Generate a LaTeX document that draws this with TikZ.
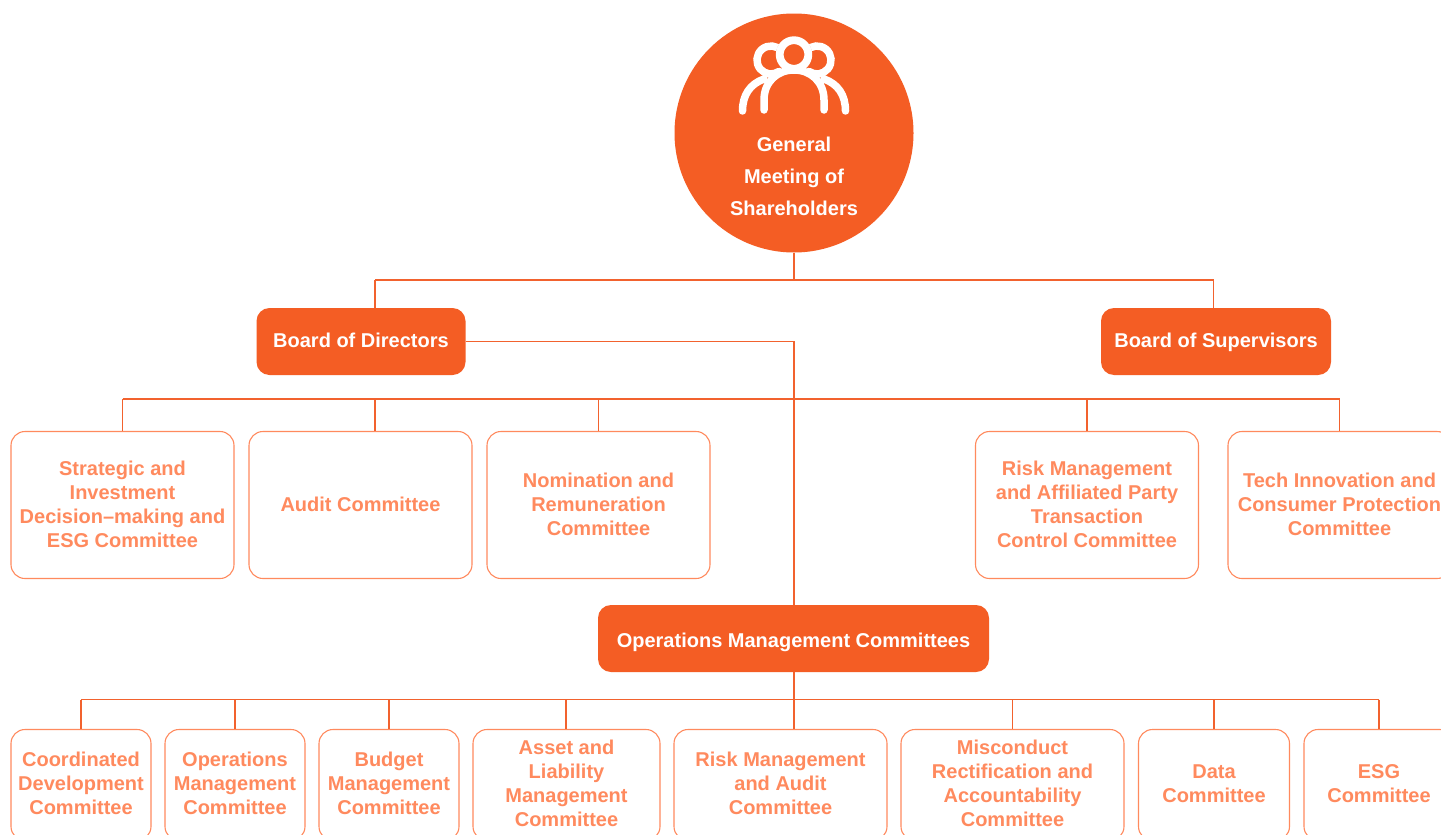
\documentclass[tikz,border=0pt]{standalone}
\usepackage{fontspec}
\setmainfont{Liberation Sans}
\definecolor{brand}{HTML}{F45D24}
\definecolor{soft}{HTML}{FF8A5E}
\definecolor{wire}{HTML}{F2622E}
\setlength{\tabcolsep}{0pt}
\newcommand{\blk}[2]{\raisebox{\dimexpr#1pt-8pt\relax}[0pt][0pt]{\begin{tabular}{@{}c@{}}#2\end{tabular}}}
\tikzset{
  x=1pt,y=-1pt,
  cbox/.style={draw=soft,line width=1.1pt,rounded corners=14pt,fill=white,text=soft,align=center,inner sep=0pt,
    font=\bfseries\fontsize{20}{24}\selectfont},
  solidbox/.style={fill=brand,rounded corners=13pt,text=white,align=center,inner sep=0pt,
    font=\bfseries\fontsize{20}{24}\selectfont},
  wireline/.style={draw=wire,line width=1.1pt},
  iconline/.style={draw=white,line width=7.5pt,line cap=round},
}
\begin{document}
\begin{tikzpicture}
\clip (0,0) rectangle (1441,835);
\fill[white] (0,0) rectangle (1441,835);

% trunk coordinates
\coordinate (t1) at (794,280);
\coordinate (t1l) at (375,280);
\coordinate (t1r) at (1213.5,280);
\coordinate (t2) at (794,399);
\coordinate (t2a) at (122.5,399);
\coordinate (t2b) at (375,399);
\coordinate (t2c) at (598.5,399);
\coordinate (t2d) at (1087,399);
\coordinate (t2e) at (1339.5,399);
\coordinate (t3) at (794,699.5);
\coordinate (t3a) at (81,699.5);
\coordinate (t3b) at (235,699.5);
\coordinate (t3c) at (389,699.5);
\coordinate (t3d) at (566,699.5);
\coordinate (t3f) at (1012.5,699.5);
\coordinate (t3g) at (1214,699.5);
\coordinate (t3h) at (1379,699.5);
\coordinate (bend) at (794,341.5);

% General meeting
\node[circle,fill=brand,minimum size=239pt,inner sep=0pt] (gm) at (794,133) {};
\node[text=white,align=center,inner sep=0pt,font=\bfseries\fontsize{20}{32}\selectfont] (gmt) at (794,176) {General\\Meeting of\\Shareholders};

% icon
\draw[iconline] (781.7,51) arc[start angle=-40,end angle=-305,radius=14];
\draw[iconline] (806.3,51) arc[start angle=-140,end angle=125,radius=14];
\draw[iconline] (742.5,111) .. controls (742.5,95) and (750,84) .. (764,79);
\draw[iconline] (845.5,111) .. controls (845.5,95) and (838,84) .. (824,79);
\fill[brand] (794,54.5) circle (18);
\draw[draw=white,line width=7.8pt] (794,54.5) circle (14.3);
\draw[iconline] (764,110) -- (764,100) .. controls (764,82) and (777,70) .. (794,70) .. controls (811,70) and (824,82) .. (824,100) -- (824,110);

% Boards
\node[solidbox,minimum width=209pt,minimum height=67pt] (bod) at (361,341.5) {\blk{1.5}{Board of Directors}};
\node[solidbox,minimum width=230pt,minimum height=67pt] (bos) at (1216,341.5) {\blk{1.5}{Board of Supervisors}};
\node[solidbox,minimum width=391pt,minimum height=67pt] (omc) at (793.5,638.5) {\blk{-1.5}{Operations Management Committees}};

% Committees
\node[cbox,minimum width=223pt,minimum height=147pt] (c1) at (122.5,505) {\blk{1}{Strategic and\\Investment\\Decision–making and\\ESG Committee}};
\node[cbox,minimum width=223pt,minimum height=147pt] (c2) at (360.5,505) {\blk{1}{Audit Committee}};
\node[cbox,minimum width=223pt,minimum height=147pt] (c3) at (598.5,505) {\blk{1}{Nomination and\\Remuneration\\Committee}};
\node[cbox,minimum width=223pt,minimum height=147pt] (c4) at (1087,505) {\blk{1}{Risk Management\\and Affiliated Party\\Transaction\\Control Committee}};
\node[cbox,minimum width=223pt,minimum height=147pt] (c5) at (1339.5,505) {\blk{1}{Tech Innovation and\\Consumer Protection\\Committee}};

% Operating committees
\node[cbox,minimum width=140pt,minimum height=111pt] (o1) at (81,785) {\blk{2}{Coordinated\\Development\\Committee}};
\node[cbox,minimum width=140pt,minimum height=111pt] (o2) at (235,785) {\blk{2}{Operations\\Management\\Committee}};
\node[cbox,minimum width=140pt,minimum height=111pt] (o3) at (389,785) {\blk{2}{Budget\\Management\\Committee}};
\node[cbox,minimum width=187pt,minimum height=111pt] (o4) at (566.5,785) {\blk{2}{Asset and\\Liability\\Management\\Committee}};
\node[cbox,minimum width=213pt,minimum height=111pt] (o5) at (780.5,785) {\blk{2}{Risk Management\\and Audit\\Committee}};
\node[cbox,minimum width=223pt,minimum height=111pt] (o6) at (1012.5,785) {\blk{2}{Misconduct\\Rectification and\\Accountability\\Committee}};
\node[cbox,minimum width=151pt,minimum height=111pt] (o7) at (1214,785) {\blk{2}{Data\\Committee}};
\node[cbox,minimum width=150pt,minimum height=111pt] (o8) at (1379,785) {\blk{2}{ESG\\Committee}};

% Connectors
\draw[wireline] (gm.south) -- (t1);
\draw[wireline] (t1l) -- (t1r);
\draw[wireline] (t1l) -- (t1l |- bod.north);
\draw[wireline] (t1r) -- (t1r |- bos.north);
\draw[wireline] (bod.east |- bend) -- (bend) -- (bend |- omc.north);
\draw[wireline] (t2a) -- (t2e);
\draw[wireline] (t2a) -- (t2a |- c1.north);
\draw[wireline] (t2b) -- (t2b |- c2.north);
\draw[wireline] (t2c) -- (t2c |- c3.north);
\draw[wireline] (t2d) -- (t2d |- c4.north);
\draw[wireline] (t2e) -- (t2e |- c5.north);
\draw[wireline] (t3 |- omc.south) -- (t3);
\draw[wireline] (t3a) -- (t3h);
\draw[wireline] (t3a) -- (t3a |- o1.north);
\draw[wireline] (t3b) -- (t3b |- o2.north);
\draw[wireline] (t3c) -- (t3c |- o3.north);
\draw[wireline] (t3d) -- (t3d |- o4.north);
\draw[wireline] (t3) -- (t3 |- o5.north);
\draw[wireline] (t3f) -- (t3f |- o6.north);
\draw[wireline] (t3g) -- (t3g |- o7.north);
\draw[wireline] (t3h) -- (t3h |- o8.north);
\end{tikzpicture}
\end{document}
